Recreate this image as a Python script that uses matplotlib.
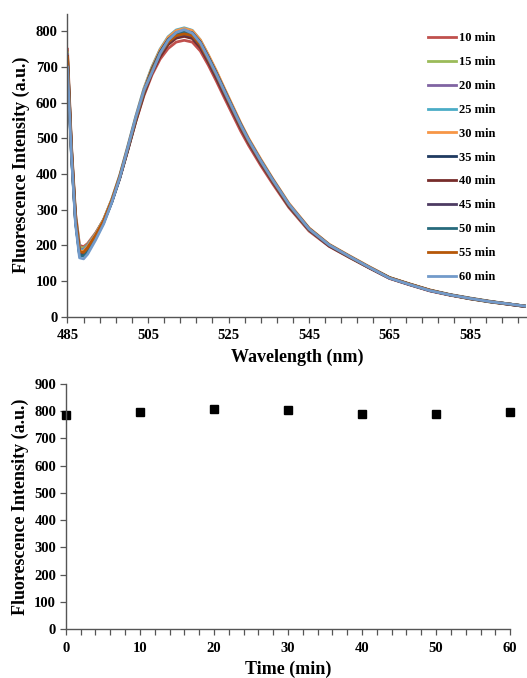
import matplotlib.pyplot as plt
from matplotlib.ticker import FixedLocator

plt.rcParams["font.family"] = ["Liberation Serif", "DejaVu Serif"]
plt.rcParams["font.weight"] = "bold"

# ---- spectra
wavelength = [485, 486, 487, 488, 489, 490, 492, 494, 496, 498, 500, 502, 504,
              506, 508, 510, 512, 514, 516, 518, 520, 522, 524, 526, 528, 530,
              533, 536, 540, 545, 550, 555, 560, 565, 570, 575, 580, 585, 590,
              595, 599]

labels = ["10 min", "15 min", "20 min", "25 min", "30 min", "35 min",
          "40 min", "45 min", "50 min", "55 min", "60 min"]
colors = ["#C0504D", "#9BBB59", "#8064A2", "#4BACC6", "#F79646", "#1F3A60",
          "#772C2A", "#4D3B62", "#276A7C", "#B65708", "#729ACA"]

s10 = [750, 480, 290, 200, 196, 205, 235, 272, 325, 390, 468, 548, 620,
       678, 722, 752, 770, 775, 770, 745, 705, 660, 613, 567, 521, 480,
       424, 372, 306, 240, 197, 166, 136, 107, 89, 72, 60, 50, 41, 34, 28]
s15 = [740, 475, 285, 195, 192, 202, 233, 272, 326, 392, 471, 553, 627,
       686, 732, 764, 783, 790, 784, 758, 716, 671, 624, 577, 531, 489,
       432, 379, 310, 243, 199, 167, 137, 108, 90, 73, 61, 50, 41, 34, 28]
s20 = [735, 470, 280, 190, 188, 200, 232, 272, 327, 394, 474, 557, 632,
       691, 738, 770, 789, 795, 789, 762, 720, 675, 627, 580, 534, 491,
       434, 380, 311, 244, 200, 168, 137, 108, 90, 73, 61, 51, 42, 35, 29]
s25 = [725, 465, 275, 188, 186, 198, 231, 273, 329, 397, 479, 563, 640,
       701, 750, 785, 804, 810, 803, 776, 733, 687, 638, 590, 542, 498,
       440, 385, 316, 247, 202, 170, 139, 109, 91, 74, 62, 52, 43, 35, 29]
s30 = [720, 460, 272, 184, 183, 196, 230, 272, 328, 396, 477, 561, 638,
       699, 748, 783, 802, 808, 802, 776, 734, 689, 640, 592, 544, 500,
       442, 387, 318, 249, 203, 171, 140, 110, 92, 75, 62, 52, 43, 35, 29]
s35 = [715, 455, 268, 175, 173, 186, 222, 265, 322, 391, 472, 556, 633,
       694, 742, 777, 796, 802, 796, 770, 728, 683, 635, 587, 540, 496,
       438, 384, 315, 247, 201, 169, 138, 109, 91, 74, 61, 51, 42, 35, 29]
s40 = [730, 468, 276, 180, 178, 191, 226, 266, 321, 388, 467, 549, 624,
       683, 729, 763, 781, 786, 780, 754, 713, 668, 621, 575, 529, 487,
       430, 377, 309, 243, 198, 167, 137, 108, 90, 73, 61, 50, 42, 34, 28]
s45 = [718, 458, 270, 177, 175, 188, 224, 266, 322, 390, 470, 553, 628,
       688, 735, 768, 786, 791, 785, 759, 717, 672, 625, 578, 532, 489,
       432, 379, 311, 244, 199, 168, 137, 108, 90, 73, 61, 51, 42, 34, 28]
s50 = [712, 452, 266, 172, 170, 184, 221, 264, 321, 390, 471, 555, 631,
       692, 740, 774, 793, 798, 792, 766, 724, 679, 631, 584, 537, 494,
       436, 382, 313, 246, 201, 169, 138, 109, 91, 74, 61, 51, 42, 35, 29]
s55 = [728, 466, 278, 182, 180, 193, 228, 269, 325, 393, 473, 556, 631,
       690, 737, 770, 788, 793, 788, 762, 721, 677, 629, 582, 535, 492,
       435, 381, 313, 246, 201, 169, 138, 109, 91, 74, 61, 51, 42, 35, 29]
s60 = [700, 450, 260, 165, 162, 175, 215, 260, 320, 390, 475, 560, 635,
       685, 738, 775, 797, 805, 795, 768, 725, 680, 632, 585, 538, 495,
       437, 383, 315, 246, 201, 169, 138, 108, 90, 73, 61, 51, 42, 35, 29]
spectra = [s10, s15, s20, s25, s30, s35, s40, s45, s50, s55, s60]

# ---- peak intensity versus time
time_min = [0, 10, 20, 30, 40, 50, 60]
peak_int = [785, 798, 808, 803, 790, 790, 795]

fig = plt.figure(figsize=(5.27, 6.78), dpi=100)
ax1 = fig.add_axes([0.128, 0.533, 0.871, 0.447])
ax2 = fig.add_axes([0.125, 0.072, 0.843, 0.362])

# ---- top panel
for vals, lab, col in zip(spectra, labels, colors):
    ax1.plot(wavelength, vals, color=col, lw=2.0, label=lab)

ax1.set_xlim(485, 599)
ax1.set_ylim(0, 850)
ax1.xaxis.set_major_locator(FixedLocator(range(485, 600, 20)))
ax1.xaxis.set_minor_locator(FixedLocator(range(485, 600, 4)))
ax1.set_yticks(range(0, 801, 100))
ax1.set_xlabel("Wavelength (nm)", fontsize=13, fontweight="bold", labelpad=5)
ax1.set_ylabel("Fluorescence Intensity (a.u.)", fontsize=13,
               fontweight="bold", labelpad=4)
ax1.legend(loc="upper left", bbox_to_anchor=(422 / 527, 1 - 26 / 678),
           bbox_transform=fig.transFigure, frameon=False, borderpad=0,
           handlelength=2.2, handletextpad=0.25, labelspacing=0.95,
           prop={"weight": "bold", "size": 9})

# ---- bottom panel
ax2.plot(time_min, peak_int, "s", color="black", ms=6, clip_on=False)
ax2.set_xlim(0, 60)
ax2.set_ylim(0, 900)
ax2.xaxis.set_major_locator(FixedLocator(range(0, 61, 10)))
ax2.xaxis.set_minor_locator(FixedLocator(range(0, 61, 2)))
ax2.set_yticks(range(0, 901, 100))
ax2.set_xlabel("Time (min)", fontsize=13, fontweight="bold", labelpad=4)
ax2.set_ylabel("Fluorescence Intensity (a.u.)", fontsize=13,
               fontweight="bold", labelpad=4)

for ax in (ax1, ax2):
    for side in ("top", "right"):
        ax.spines[side].set_visible(False)
    for side in ("left", "bottom"):
        ax.spines[side].set_color("#555555")
        ax.spines[side].set_linewidth(1.0)
    ax.tick_params(which="both", direction="out", length=4, width=0.9,
                   color="#555555", labelsize=10.5)
    ax.tick_params(axis="x", which="both", pad=5)
    ax.tick_params(axis="y", pad=3)
    for t in ax.get_xticklabels() + ax.get_yticklabels():
        t.set_fontweight("bold")

fig.savefig("out.png", dpi=100)
